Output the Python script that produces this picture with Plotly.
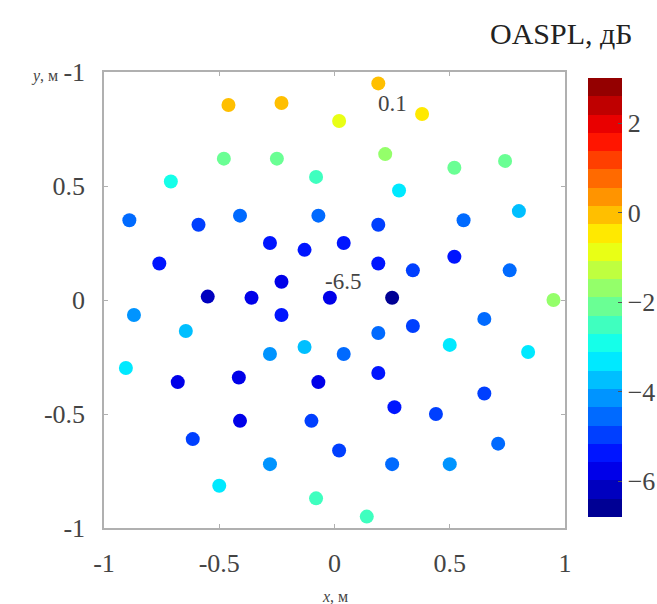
import plotly.graph_objects as go

# Microphone positions (m) and OASPL values (dB)
x_pos = [0.19, -0.46, -0.23, 0.02, 0.38, -0.48, -0.25, 0.22, 0.52, 0.74,
         -0.71, -0.08, 0.28, -0.89, -0.59, -0.41, -0.07, 0.19, 0.56, 0.80,
         -0.28, -0.13, 0.04, -0.76, 0.19, 0.34, 0.52, 0.76, -0.23, -0.55,
         -0.36, -0.02, 0.25, 0.95,
         -0.87, -0.23, -0.645, 0.19, 0.34, 0.65, -0.28, -0.13, 0.04, 0.50,
         0.84, -0.905, -0.68, -0.415, -0.07, 0.19, 0.65, 0.26, 0.44, -0.41,
         -0.10, -0.615, 0.71, 0.02, -0.28, 0.25, 0.50, -0.50, -0.08, 0.14]
y_pos = [0.95, 0.855, 0.864, 0.785, 0.816, 0.62, 0.62, 0.64, 0.58, 0.61,
         0.52, 0.54, 0.48, 0.35, 0.33, 0.37, 0.37, 0.33, 0.35, 0.39,
         0.25, 0.22, 0.25, 0.16, 0.16, 0.13, 0.19, 0.13, 0.08, 0.015,
         0.01, 0.01, 0.01, 0.0,
         -0.066, -0.066, -0.136, -0.145, -0.114, -0.083, -0.237, -0.206, -0.237, -0.197,
         -0.228, -0.298, -0.36, -0.34, -0.36, -0.32, -0.41, -0.47, -0.50, -0.53,
         -0.53, -0.61, -0.63, -0.66, -0.72, -0.72, -0.72, -0.815, -0.87, -0.95]
oaspl = [0.1, -0.2, -0.2, -0.7, -0.3, -2.1, -1.9, -1.5, -2.1, -1.9,
         -3.1, -2.5, -3.2, -4.4, -4.8, -4.5, -4.5, -4.8, -4.6, -3.6,
         -5.4, -5.5, -5.5, -5.3, -5.5, -4.9, -5.4, -4.5, -5.6, -6.3,
         -5.7, -5.8, -6.4, -1.5,
         -4.2, -5.4, -3.9, -4.6, -5.1, -4.6, -4.3, -3.8, -4.4, -3.5,
         -3.3, -3.3, -5.6, -5.6, -5.6, -5.3, -4.9, -5.3, -4.9, -5.6,
         -4.8, -5.0, -4.6, -4.8, -4.1, -4.4, -4.0, -3.5, -2.7, -2.6]

tick_vals = [-1, -0.5, 0, 0.5, 1]
x_tick_text = ["-1", "-0.5", "0", "0.5", "1"]
y_tick_text = ["-1", "-0.5", "0", "0.5", "-1"]
cbar_ticks = [-6, -4, -2, 0, 2]
c_min, c_max = -6.8, 3.0
label_text = ["0.1", "-6.5"]
label_x = [0.25, 0.035]
label_y = [0.864, 0.08]

# Discrete jet colormap
N = 24
def jet(t):
    cl = lambda v: max(0.0, min(1.0, v))
    r = cl(1.5 - abs(4 * t - 3))
    g = cl(1.5 - abs(4 * t - 2))
    b = cl(1.5 - abs(4 * t - 1))
    return f"rgb({int(r*255)},{int(g*255)},{int(b*255)})"

colorscale = []
for i in range(N):
    c = jet((i + 0.5) / N)
    colorscale.append([i / N, c])
    colorscale.append([(i + 1) / N, c])

FONT = "Liberation Serif"
TXT = "#444444"
L, T, PW, PH = 104, 72, 461, 456   # plot area in page pixels

fig = go.Figure()
fig.add_trace(go.Scatter(
    x=x_pos, y=y_pos, mode="markers",
    marker=dict(size=14, color=oaspl, colorscale=colorscale, cmin=c_min, cmax=c_max,
                line=dict(width=0),
                colorbar=dict(thickness=34, lenmode="pixels", len=459, xpad=0,
                              x=(588 - L) / PW, xanchor="left", y=0.505, yanchor="middle",
                              tickvals=cbar_ticks, ticks="inside", ticklen=4,
                              tickcolor="#555", outlinewidth=0,
                              tickfont=dict(family=FONT, size=26, color=TXT))),
    showlegend=False, hoverinfo="skip"))

for t, lx, ly in zip(label_text, label_x, label_y):
    fig.add_annotation(x=lx, y=ly, text=t, showarrow=False,
                       xanchor="center", yanchor="middle",
                       font=dict(family=FONT, size=23, color=TXT))

def paper_x(px):
    return (px - L) / PW

def paper_y(py):
    return (T + PH - py) / PH

fig.add_annotation(xref="paper", yref="paper", x=paper_x(561), y=paper_y(33),
                   xanchor="center", yanchor="middle",
                   text="OASPL, дБ", showarrow=False,
                   font=dict(family=FONT, size=30, color="#222"))
fig.add_annotation(xref="paper", yref="paper", x=paper_x(44), y=paper_y(76),
                   xanchor="center", yanchor="middle",
                   text="<i>y</i>, м", showarrow=False,
                   font=dict(family=FONT, size=16, color=TXT))
fig.add_annotation(xref="paper", yref="paper", x=paper_x(335), y=paper_y(596),
                   xanchor="center", yanchor="middle",
                   text="<i>x</i>, м", showarrow=False,
                   font=dict(family=FONT, size=16, color=TXT))

axis_common = dict(range=[-1, 1], tickvals=tick_vals, showgrid=False, zeroline=False,
                   showline=True, linecolor="#b0b0b0", linewidth=1.5, mirror="ticks",
                   ticks="inside", ticklen=4, tickcolor="#b0b0b0",
                   tickfont=dict(family=FONT, size=26, color=TXT))
fig.update_xaxes(**axis_common, ticktext=x_tick_text, ticklabelstandoff=11)
fig.update_yaxes(**axis_common, ticktext=y_tick_text, ticklabelstandoff=12)

fig.update_layout(width=657, height=604,
                  margin=dict(l=L, r=657 - L - PW, t=T, b=604 - T - PH, autoexpand=False),
                  plot_bgcolor="white", paper_bgcolor="white")

# remove the default page margin so the figure fills the window exactly
fig.write_html("out.html",
               config={"displayModeBar": False},
               post_script="document.body.style.margin='0';"
                           "document.body.style.overflow='hidden';")
